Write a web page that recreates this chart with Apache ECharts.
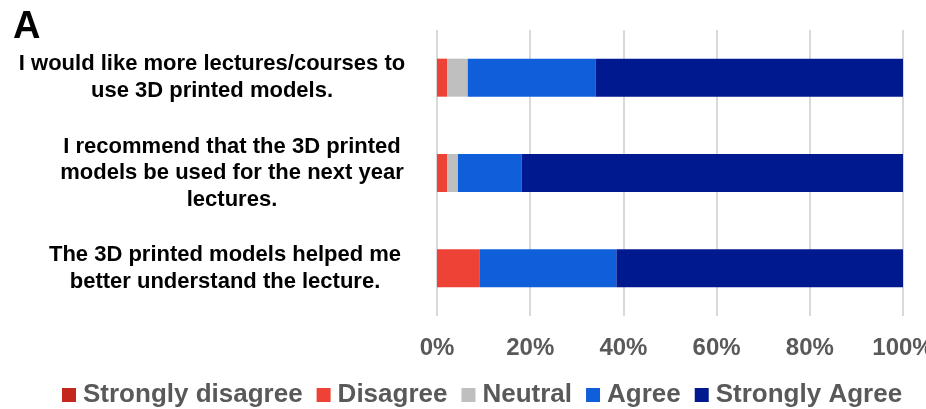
<!DOCTYPE html>
<html><head><meta charset="utf-8">
<script src="https://cdn.jsdelivr.net/npm/echarts@6/dist/echarts.min.js"></script>
<style>html,body{margin:0;padding:0;background:#fff}#c{width:926px;height:409px}</style>
</head><body><div id="c"></div>
<script>
const categories = [
  "I would like more lectures/courses to\nuse 3D printed models.",
  "I recommend that the 3D printed\nmodels be used for the next year\nlectures.",
  "The 3D printed models helped me\nbetter understand the lecture."
];
const seriesNames = ["Strongly disagree", "Disagree", "Neutral", "Agree", "Strongly Agree"];
const stronglyDisagree = [0, 0, 0];
const disagree = [2.2, 2.2, 9.2];
const neutral = [4.4, 2.3, 0];
const agree = [27.4, 13.7, 29.3];
const stronglyAgree = [66.0, 81.8, 61.5];
const xTicks = [0, 20, 40, 60, 80, 100];
const colors = ["#C4271C", "#EE4236", "#BFBFBF", "#0F5FDB", "#00198F"];

const values = [stronglyDisagree, disagree, neutral, agree, stronglyAgree];
const styleKeys = ['t', 'm', 'b'];
const font = "'Liberation Sans', Arial, sans-serif";
const base = {fontFamily: font, fontWeight: 'bold', fontSize: 22, lineHeight: 26.5, color: '#000'};
const chart = echarts.init(document.getElementById('c'), null, {renderer: 'canvas'});
chart.setOption({
  animation: false,
  color: colors,
  title: {text: 'A', left: 8, top: 4, textStyle: {fontFamily: font, fontWeight: 'bold', fontSize: 38, color: '#000'}},
  legend: {
    left: 57, top: 377, itemWidth: 14, itemHeight: 14, itemGap: 14, icon: 'rect',
    textStyle: {fontFamily: font, fontWeight: 'bold', fontSize: 26, color: '#595959', padding: [0, 0, 0, 2]},
    data: seriesNames
  },
  grid: {left: 437, right: 23, top: 30, bottom: 93, containLabel: false, outerBoundsMode: 'none'},
  xAxis: {
    type: 'value', min: xTicks[0], max: xTicks[xTicks.length - 1], interval: 20,
    axisLine: {show: false}, axisTick: {show: false},
    splitLine: {lineStyle: {color: '#D9D9D9', width: 2}},
    axisLabel: {formatter: v => v + '%', margin: 20, fontFamily: font, fontWeight: 'bold', fontSize: 24, color: '#595959'}
  },
  yAxis: {
    type: 'category', inverse: true,
    data: categories,
    axisLine: {show: false}, axisTick: {show: false},
    axisLabel: Object.assign({
      align: 'center', margin: 214,
      formatter: (v, i) => v.split('\n').map(line => '{' + styleKeys[i] + '|' + line + '}').join('\n'),
      rich: {
        t: Object.assign({padding: [0, 22, 0, 0]}, base),
        m: Object.assign({padding: [0, 0, 0, 18]}, base),
        b: Object.assign({padding: [0, 0, 0, 4]}, base)
      }
    }, base)
  },
  series: seriesNames.map((n, i) => ({
    name: n, type: 'bar', stack: 'total', barWidth: 38,
    data: values[i]
  }))
});
</script></body></html>
